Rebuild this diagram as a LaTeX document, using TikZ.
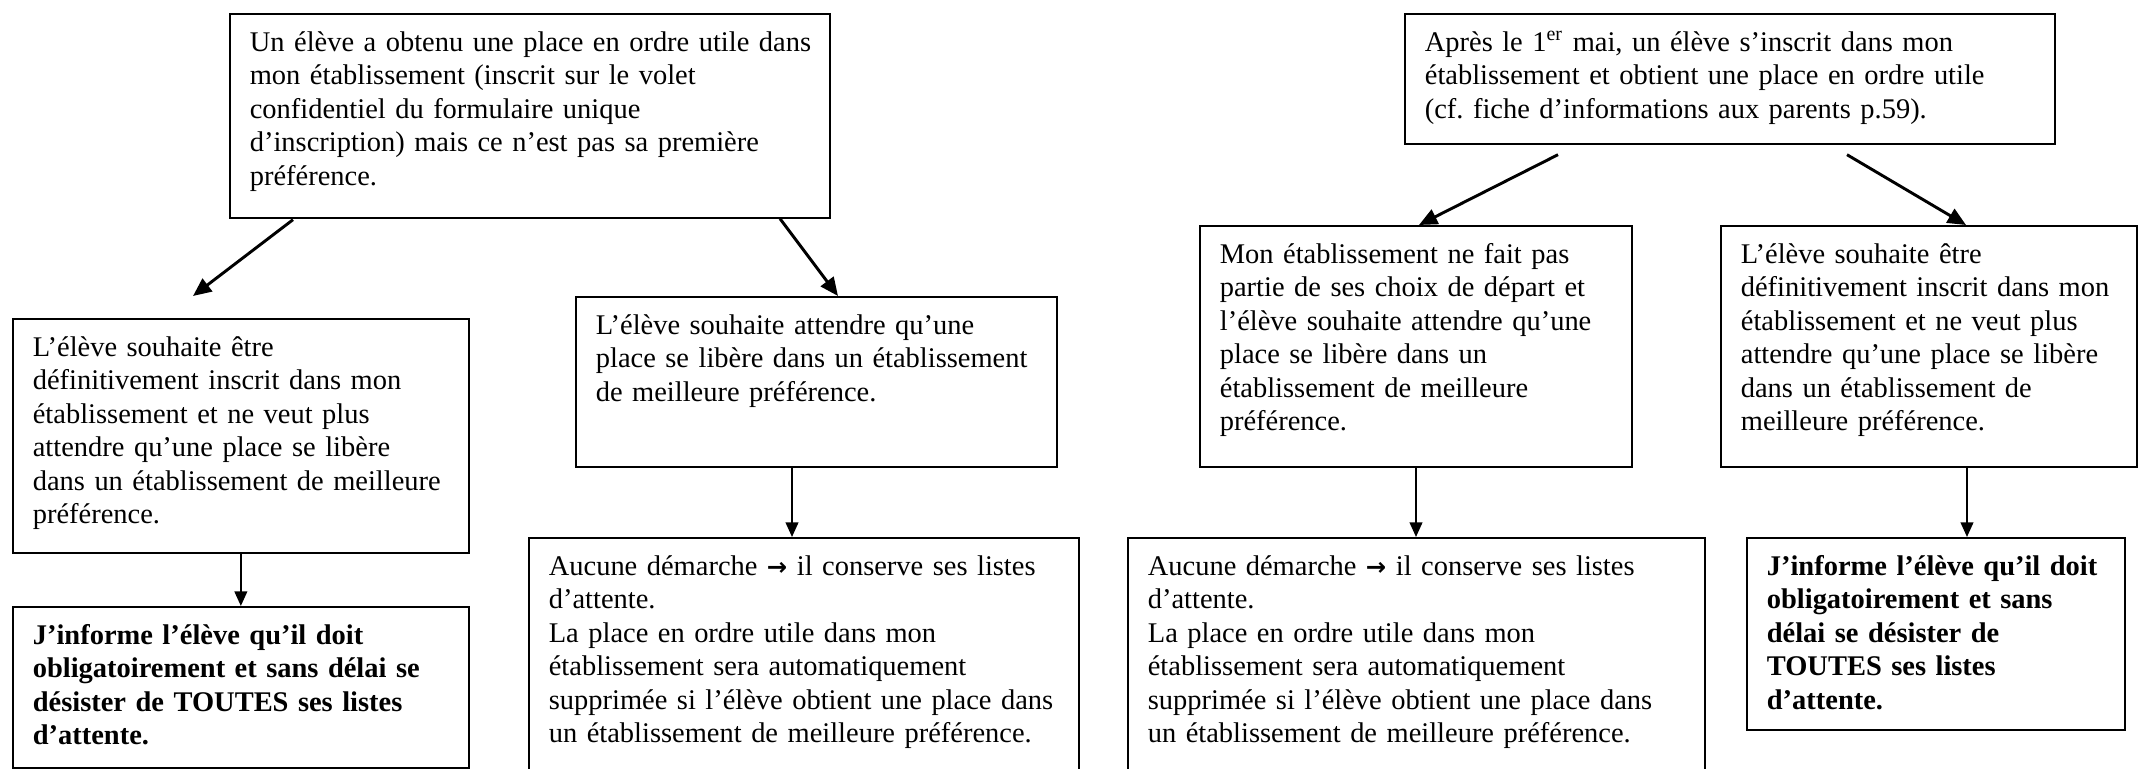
\documentclass[tikz,border=0pt]{standalone}
\usepackage{fontspec}
\setmainfont{Liberation Serif}
\newfontfamily\symboles{DejaVu Sans}
\newcommand\flechetexte{{\symboles\bfseries\fontsize{10pt}{13.77pt}\selectfont →}}
\usetikzlibrary{arrows.meta}

\begin{document}
\begin{tikzpicture}[x=0.411pt, y=-0.411pt,
    boite/.style 2 args={draw, line width=0.7pt, anchor=north west, inner sep=0pt,
      align=left, text width=#1, text height=15.41pt, text depth=#2,
      font=\fontsize{11.7pt}{13.77pt}\selectfont\frenchspacing, execute at begin node={\leftskip=8.22pt}},
    fleche/.style={line width=1.2pt, -{Triangle[length=7.5pt,width=6.5pt]}},
    flechev/.style={line width=0.8pt, -{Triangle[length=6pt,width=5.2pt]}}]
      \useasboundingbox (0,0) rectangle (2138,769);
      \draw
        (229,13) node[boite={246.60pt}{68.43pt}] (cas1){Un élève a obtenu une place en ordre utile dans\\
          mon établissement (inscrit sur le volet\\
          confidentiel du formulaire unique\\
          d’inscription) mais ce n’est pas sa première\\
          préférence.}
        (1404,13) node[boite={267.15pt}{38.02pt}] (cas2){Après le 1\textsuperscript{er} mai, un élève s’inscrit dans mon\\
          établissement et obtient une place en ordre utile\\
          (cf. fiche d’informations aux parents p.59).}
        (12,318) node[boite={187.42pt}{80.76pt}] (inscrit1){L’élève souhaite être\\
          définitivement inscrit dans mon\\
          établissement et ne veut plus\\
          attendre qu’une place se libère\\
          dans un établissement de meilleure\\
          préférence.}
        (575,296) node[boite={197.69pt}{54.46pt}] (attente1){L’élève souhaite attendre qu’une\\
          place se libère dans un établissement\\
          de meilleure préférence.}
        (12,606) node[boite={187.42pt}{50.76pt}] (desist1){\bfseries J’informe l’élève qu’il doit\\
          obligatoirement et sans délai se\\
          désister de TOUTES ses listes\\
          d’attente.}
        (528,537) node[boite={226.05pt}{91.45pt}] (garde1){Aucune démarche \flechetexte{} il conserve ses listes\\
          d’attente.\\
          La place en ordre utile dans mon\\
          établissement sera automatiquement\\
          supprimée si l’élève obtient une place dans\\
          un établissement de meilleure préférence.}
        (1199,225) node[boite={177.55pt}{83.64pt}] (attente2){Mon établissement ne fait pas\\
          partie de ses choix de départ et\\
          l’élève souhaite attendre qu’une\\
          place se libère dans un\\
          établissement de meilleure\\
          préférence.}
        (1720,225) node[boite={170.98pt}{83.64pt}] (inscrit2){L’élève souhaite être\\
          définitivement inscrit dans mon\\
          établissement et ne veut plus\\
          attendre qu’une place se libère\\
          dans un établissement de\\
          meilleure préférence.}
        (1127,537) node[boite={237.15pt}{91.45pt}] (garde2){Aucune démarche \flechetexte{} il conserve ses listes\\
          d’attente.\\
          La place en ordre utile dans mon\\
          établissement sera automatiquement\\
          supprimée si l’élève obtient une place dans\\
          un établissement de meilleure préférence.}
        (1746,537) node[boite={155.36pt}{63.50pt}] (desist2){\bfseries J’informe l’élève qu’il doit\\
          obligatoirement et sans\\
          délai se désister de\\
          TOUTES ses listes\\
          d’attente.};
      \begin{scope}[fleche]
        \draw ([shift={(64,1)}]cas1.south west) to ([shift={(181,-22)}]inscrit1.north west);
        \draw ([shift={(551,0)}]cas1.south west) to ([shift={(263,0)}]attente1.north west);
        \draw ([shift={(154,10)}]cas2.south west) to ([shift={(220,0)}]attente2.north west);
        \draw ([shift={(443,10)}]cas2.south west) to ([shift={(246,0)}]inscrit2.north west);
      \end{scope}
      \begin{scope}[flechev]
        \draw (inscrit1) to (desist1);
        \draw ([shift={(217,0)}]attente1.south west) to ([shift={(217,0)}]attente1.south west |- garde1.north);
        \draw ([shift={(217,0)}]attente2.south west) to ([shift={(217,0)}]attente2.south west |- garde2.north);
        \draw ([shift={(247,0)}]inscrit2.south west) to ([shift={(247,0)}]inscrit2.south west |- desist2.north);
      \end{scope}
    \end{tikzpicture}
\end{document}
